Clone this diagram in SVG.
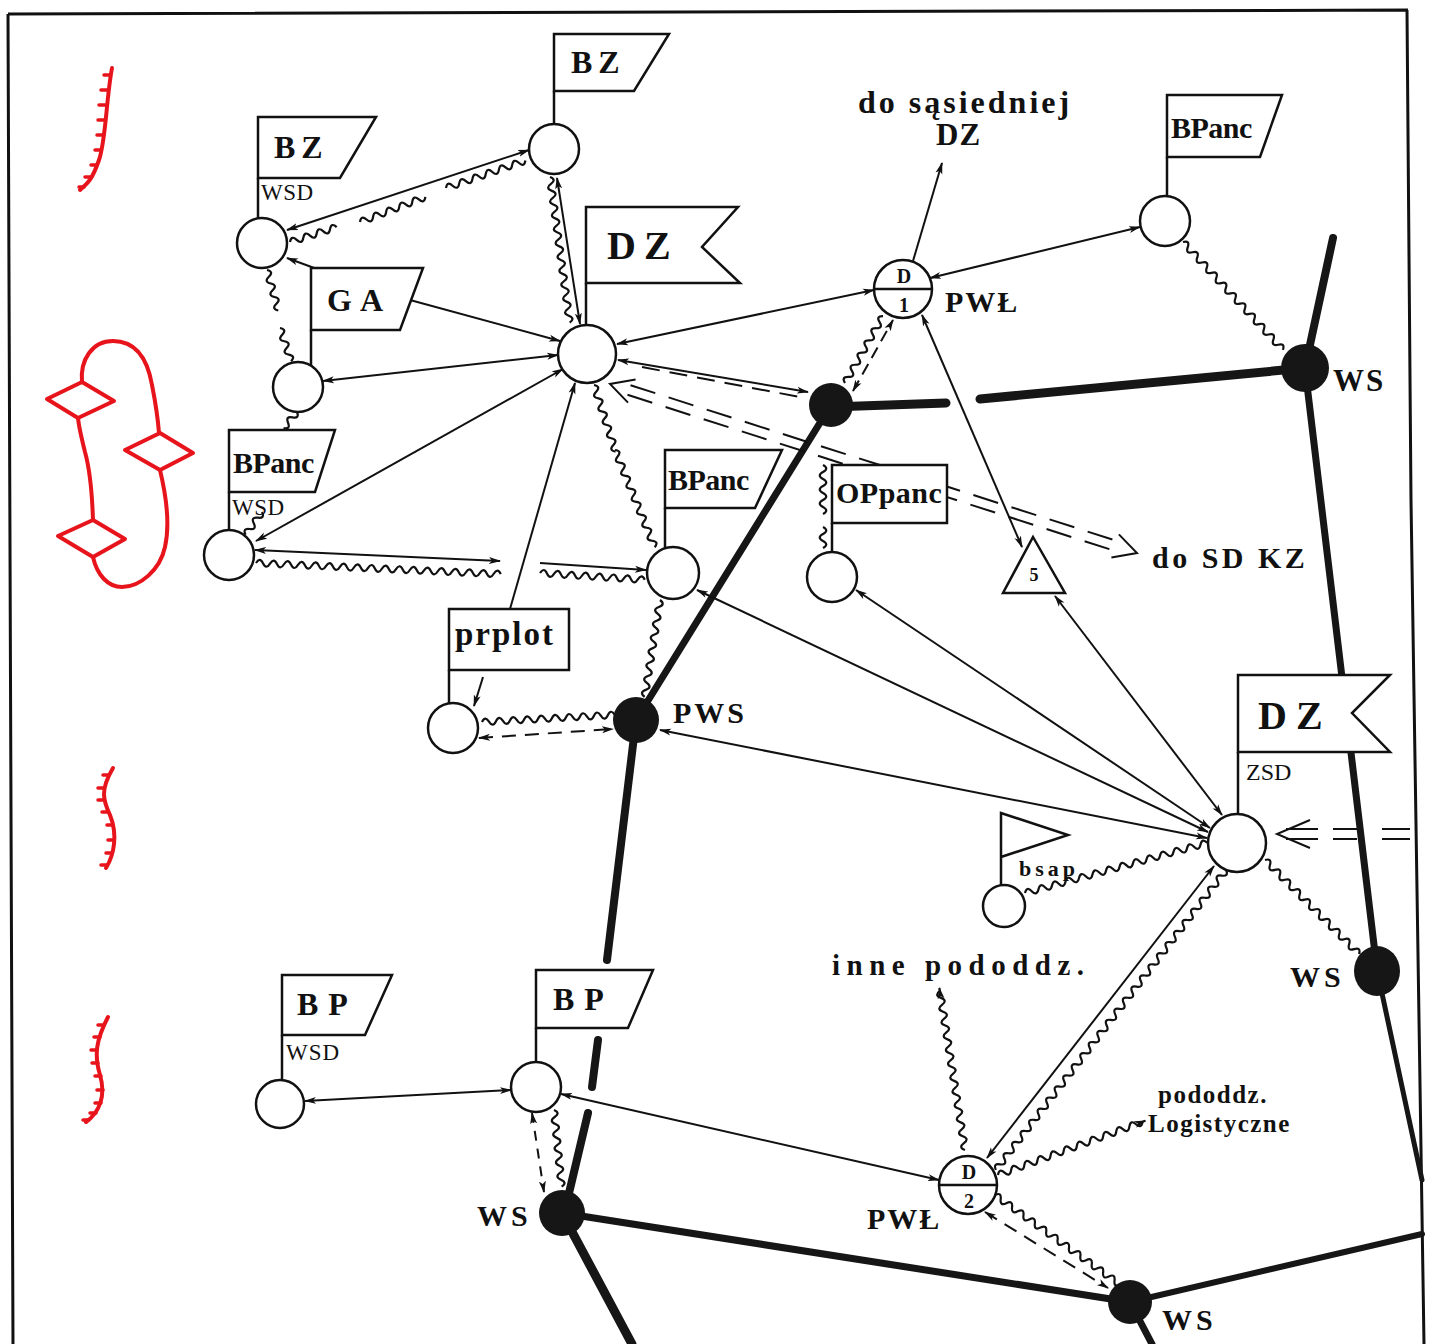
<svg xmlns="http://www.w3.org/2000/svg" width="1432" height="1344" viewBox="0 0 1432 1344">
<defs>
<marker id="ah" viewBox="0 0 12 8" refX="11" refY="4" markerWidth="12" markerHeight="8" markerUnits="userSpaceOnUse" orient="auto-start-reverse"><path d="M0,0.5 L12,4 L0,7.5 L3,4z" fill="#111"/></marker>
<style>
.ln{stroke:#111;stroke-width:2;fill:none}
.ar{marker-start:url(#ah);marker-end:url(#ah)}
.ae{marker-end:url(#ah)}
.wv{stroke:#111;stroke-width:2.2;fill:none}
.ds{stroke-dasharray:14 9}
.road{stroke:#161616;stroke-linecap:round;fill:none}
.nd{fill:#fff;stroke:#111;stroke-width:2.5}
.blk{fill:#161616}
.flag{fill:#fff;stroke:#111;stroke-width:2.5;stroke-linejoin:miter}
.pole{stroke:#111;stroke-width:2.5;fill:none}
.red{stroke:#e8141c;stroke-width:4;fill:none;stroke-linecap:round;stroke-linejoin:round}
.redt{stroke:#e8141c;stroke-width:3.5;fill:none;stroke-linecap:round}
.t{font-family:"Liberation Serif",serif;font-weight:bold;fill:#111}
.s{font-family:"Liberation Serif",serif;font-weight:normal;fill:#111}
</style>
</defs>
<rect width="1432" height="1344" fill="#fff"/>
<path d="M8,14 L1408,10 M8,14 L13,1344 M1407,10 L1411,500 L1424,1344" stroke="#111" stroke-width="3" fill="none"/>

<g id="red-marks">
<path class="red" d="M112,68 C106,100 106,140 99,160 S88,183 80,190"/>
<path class="redt" d="M110,75h-6M107,90h-6M105,105h-6M104,120h-6M103,135h-6M101,150h-6M97,165h-6M91,177h-6M84,187h-5"/>
<path class="red" d="M113,768 C100,790 103,800 110,815 C118,835 114,855 106,868"/>
<path class="redt" d="M109,775h-6M104,788h-6M104,800h-6M108,812h-6M113,825h-6M114,840h-6M112,853h-6M107,865h-6"/>
<path class="red" d="M108,1017 C96,1040 94,1055 100,1075 C106,1095 100,1112 86,1122"/>
<path class="redt" d="M104,1025h-6M100,1037h-6M97,1050h-6M98,1063h-6M101,1076h-6M103,1090h-6M101,1103h-6M96,1113h-6M89,1120h-6"/>
<path class="red" d="M82,382 C80,360 92,341 113,341 C138,341 148,362 152,385 C155,400 158,420 159,433"/>
<path class="red" d="M160,470 C166,495 170,525 165,547 C160,570 140,587 122,587 C108,587 97,575 93,557"/>
<path class="red" d="M93,520 C92,490 90,470 85,452 C82,440 79,428 78,418"/>
<path class="red" d="M47,399 L82,382 L114,401 L78,418 Z"/>
<path class="red" d="M125,450 L160,433 L193,453 L160,470 Z"/>
<path class="red" d="M58,536 L93,520 L125,539 L93,557 Z"/>
</g>

<g id="roads">
<path class="road" stroke-width="8" d="M1333,238 L1305,368"/>
<path class="road" stroke-width="9" d="M1305,368 L980,399"/>
<path class="road" stroke-width="9" d="M946,403 L831,407"/>
<path class="road" stroke-width="7" d="M831,405 L636,720"/>
<path class="road" stroke-width="8" d="M636,720 L607,960"/>
<path class="road" stroke-width="8" d="M598,1040 L592,1087"/>
<path class="road" stroke-width="8" d="M588,1113 L565,1210"/>
<path class="road" stroke-width="9" d="M562,1213 L632,1344"/>
<path class="road" stroke-width="7" d="M562,1213 L1130,1302"/>
<path class="road" stroke-width="6" d="M1130,1302 L1422,1234"/>
<path class="road" stroke-width="7" d="M1130,1302 L1152,1344"/>
<path class="road" stroke-width="7" d="M1305,368 L1377,970"/>
<path class="road" stroke-width="5" d="M1377,970 L1422,1180"/>
</g>

<g id="connectors">
<path class="ln ar" d="M287,230 L529,150"/>
<path class="ln ae" d="M410,300 L560,341"/>
<path class="ln ar" d="M323,381 L558,355"/>
<path class="ln ar" d="M256,541 L563,369"/>
<path class="ln ae" d="M510,609 L575,383"/>
<path class="ln ar" d="M557,178 L580,324"/>
<path class="ln ar" d="M617,344 L874,290"/>
<path class="ln ar" d="M618,360 L808,392"/>
<path class="ln ae" d="M913,261 L942,163"/>
<path class="ln ar" d="M1140,227 L930,278"/>
<path class="ln ar" d="M922,315 L1022,547"/>
<path class="ln ar" d="M697,590 L1208,832"/>
<path class="ln ar" d="M856,590 L1210,828"/>
<path class="ln ar" d="M1055,596 L1222,815"/>
<path class="ln ar" d="M660,730 L1207,838"/>
<path class="ln ar" d="M1214,866 L987,1158"/>
<path class="ln ar" d="M511,1090 L305,1101"/>
<path class="ln ar" d="M561,1094 L939,1180"/>
<path class="ln ae" d="M317,269 L287,258"/>
<path class="ln ae" d="M483,677 L474,706"/>
<path class="ln ar" d="M255,550 L500,561"/>
<path class="ln ae" d="M540,563 L646,570"/>
<path class="ln" stroke-dasharray="18 10" d="M642,367 L800,397"/>
<path class="ln ar" stroke-dasharray="12 7" d="M853,391 L893,320"/>
<path class="ln ar ds" d="M479,738 L613,729"/>
<path class="ln ar ds" d="M985,1212 L1108,1288"/>
<path class="ln ar" stroke-dasharray="10 8" d="M532,1113 L544,1192"/>
<path class="ln" stroke-dasharray="26 14" d="M630.5,385.2 L1114.5,540.2 M627.5,394.8 L1111.5,549.8"/>
<path class="ln" d="M628,402.6 L610,384 L635.6,379.4 M1118.9,534.4 L1137,553 L1111.4,557.6"/>
<path class="ln" d="M1410,829H1382M1357,829H1333M1318,829H1286M1410,839H1382M1357,839H1333M1318,839H1286M1310,820 L1277,834 L1310,848"/>
<path class="wv" transform="translate(290,242) rotate(-17.7)" d="M0,0q3.5,-6.5 7,0t7,0t7,0t7,0t7,0t7,0t7,0"/>
<path class="wv" transform="translate(360,222) rotate(-21)" d="M0,0q3.5,-6.5 7,0t7,0t7,0t7,0t7,0t7,0t7,0t7,0t7,0t7,0"/>
<path class="wv" transform="translate(446,188) rotate(-19.1)" d="M0,0q3.5,-6.5 7,0t7,0t7,0t7,0t7,0t7,0t7,0t7,0t7,0t7,0t7,0t7,0"/>
<path class="wv" transform="translate(550,177) rotate(82.3)" d="M0,0q3.5,-6.5 7,0t7,0t7,0t7,0t7,0t7,0t7,0t7,0t7,0t7,0t7,0t7,0t7,0t7,0t7,0t7,0t7,0t7,0t7,0t7,0t7,0"/>
<path class="wv" transform="translate(594,385) rotate(72.1)" d="M0,0q3.5,-6.5 7,0t7,0t7,0t7,0t7,0t7,0t7,0t7,0t7,0t7,0"/>
<path class="wv" transform="translate(615,450) rotate(67.8)" d="M0,0q3.5,-6.5 7,0t7,0t7,0t7,0t7,0t7,0t7,0t7,0t7,0t7,0t7,0t7,0t7,0t7,0t7,0"/>
<path class="wv" transform="translate(660,600) rotate(99)" d="M0,0q3.5,-6.5 7,0t7,0t7,0t7,0t7,0t7,0t7,0t7,0t7,0t7,0t7,0t7,0t7,0t7,0"/>
<path class="wv" transform="translate(256,563) rotate(2.6)" d="M0,0q3.5,-6.5 7,0t7,0t7,0t7,0t7,0t7,0t7,0t7,0t7,0t7,0t7,0t7,0t7,0t7,0t7,0t7,0t7,0t7,0t7,0t7,0t7,0t7,0t7,0t7,0t7,0t7,0t7,0t7,0t7,0t7,0t7,0t7,0t7,0t7,0t7,0"/>
<path class="wv" transform="translate(540,573) rotate(3.7)" d="M0,0q3.5,-6.5 7,0t7,0t7,0t7,0t7,0t7,0t7,0t7,0t7,0t7,0t7,0t7,0t7,0t7,0t7,0"/>
<path class="wv" transform="translate(482,722) rotate(-3.1)" d="M0,0q3.5,-6.5 7,0t7,0t7,0t7,0t7,0t7,0t7,0t7,0t7,0t7,0t7,0t7,0t7,0t7,0t7,0t7,0t7,0t7,0t7,0"/>
<path class="wv" transform="translate(1183,242) rotate(47.2)" d="M0,0q3.5,-6.5 7,0t7,0t7,0t7,0t7,0t7,0t7,0t7,0t7,0t7,0t7,0t7,0t7,0t7,0t7,0t7,0t7,0t7,0t7,0t7,0t7,0"/>
<path class="wv" transform="translate(845,383) rotate(-60.4)" d="M0,0q3.5,-6.5 7,0t7,0t7,0t7,0t7,0t7,0t7,0t7,0t7,0t7,0t7,0"/>
<path class="wv" transform="translate(1025,893) rotate(-15.4)" d="M0,0q3.5,-6.5 7,0t7,0t7,0t7,0t7,0t7,0t7,0t7,0t7,0t7,0t7,0t7,0t7,0t7,0t7,0t7,0t7,0t7,0t7,0t7,0t7,0t7,0t7,0t7,0t7,0t7,0t7,0"/>
<path class="wv" transform="translate(1265,860) rotate(45)" d="M0,0q3.5,-6.5 7,0t7,0t7,0t7,0t7,0t7,0t7,0t7,0t7,0t7,0t7,0t7,0t7,0t7,0t7,0t7,0t7,0t7,0t7,0"/>
<path class="wv" transform="translate(1226,870) rotate(127.5)" d="M0,0q3.5,-6.5 7,0t7,0t7,0t7,0t7,0t7,0t7,0t7,0t7,0t7,0t7,0t7,0t7,0t7,0t7,0t7,0t7,0t7,0t7,0t7,0t7,0t7,0t7,0t7,0t7,0t7,0t7,0t7,0t7,0t7,0t7,0t7,0t7,0t7,0t7,0t7,0t7,0t7,0t7,0t7,0t7,0t7,0t7,0t7,0t7,0t7,0t7,0t7,0t7,0t7,0t7,0t7,0t7,0t7,0"/>
<path class="wv ae" transform="translate(965,1150) rotate(-99)" d="M0,0q3.5,-6.5 7,0t7,0t7,0t7,0t7,0t7,0t7,0t7,0t7,0t7,0t7,0t7,0t7,0t7,0t7,0t7,0t7,0t7,0t7,0t7,0t7,0t7,0t7,0l3,0"/>
<path class="wv ae" transform="translate(998,1175) rotate(-20.2)" d="M0,0q3.5,-6.5 7,0t7,0t7,0t7,0t7,0t7,0t7,0t7,0t7,0t7,0t7,0t7,0t7,0t7,0t7,0t7,0t7,0t7,0t7,0t7,0t7,0t7,0l3,0"/>
<path class="wv" transform="translate(995,1195) rotate(35.6)" d="M0,0q3.5,-6.5 7,0t7,0t7,0t7,0t7,0t7,0t7,0t7,0t7,0t7,0t7,0t7,0t7,0t7,0t7,0t7,0t7,0t7,0t7,0t7,0t7,0t7,0"/>
<path class="wv" transform="translate(554,1110) rotate(84.3)" d="M0,0q3.5,-6.5 7,0t7,0t7,0t7,0t7,0t7,0t7,0t7,0t7,0t7,0t7,0"/>
<path class="wv" transform="translate(267,270) rotate(74.4)" d="M0,0q3.5,-6.5 7,0t7,0t7,0t7,0t7,0t7,0"/>
<path class="wv" transform="translate(280,328) rotate(71.6)" d="M0,0q3.5,-6.5 7,0t7,0t7,0t7,0t7,0"/>
<path class="wv" transform="translate(297,412) rotate(129.8)" d="M0,0q3.5,-6.5 7,0t7,0t7,0"/>
<path class="wv" transform="translate(262,512) rotate(126)" d="M0,0q3.5,-6.5 7,0t7,0t7,0t7,0"/>
<path class="wv" transform="translate(823,465) rotate(90)" d="M0,0q3.5,-6.5 7,0t7,0t7,0t7,0t7,0t7,0t7,0"/>
<path class="wv" transform="translate(823,527) rotate(90)" d="M0,0q3.5,-6.5 7,0t7,0t7,0"/>
</g>

<g id="n-bz-wsd">
<path class="pole" d="M258,178 V219"/>
<polygon class="flag" points="258,117 376,117 340,178 258,178"/>
<text class="t" x="274" y="158" font-size="32" letter-spacing="6">BZ</text>
<text class="s" x="261" y="200" font-size="23" letter-spacing="0.5">WSD</text>
<circle class="nd" cx="262" cy="243" r="25"/>
</g>
<g id="n-bz-top">
<path class="pole" d="M554,91 V124"/>
<polygon class="flag" points="554,34 669,34 634,91 554,91"/>
<text class="t" x="571" y="73" font-size="32" letter-spacing="6">BZ</text>
<circle class="nd" cx="554" cy="149" r="25"/>
</g>
<g id="n-ga">
<path class="pole" d="M311,330 V366"/>
<polygon class="flag" points="311,268 423,268 400,330 311,330"/>
<text class="t" x="327" y="311" font-size="32" letter-spacing="8">GA</text>
<circle class="nd" cx="298" cy="387" r="25"/>
</g>
<g id="n-bpanc-wsd">
<path class="pole" d="M229,492 V531"/>
<polygon class="flag" points="229,430 335,430 315,492 229,492"/>
<text class="t" x="233" y="473" font-size="30" letter-spacing="-0.5">BPanc</text>
<text class="s" x="232" y="515" font-size="23" letter-spacing="0.5">WSD</text>
<circle class="nd" cx="229" cy="555" r="25"/>
</g>
<g id="n-dz-main">
<path class="pole" d="M586,283 V325"/>
<polygon class="flag" points="586,207 738,207 702,247 740,283 586,283"/>
<text class="t" x="607" y="259" font-size="40" letter-spacing="8">DZ</text>
<circle class="nd" cx="587" cy="354" r="29"/>
</g>
<g id="n-d1">
<circle class="nd" cx="903" cy="289" r="29"/>
<path class="pole" d="M874,289 H932"/>
<text class="t" x="904" y="283" font-size="20" text-anchor="middle">D</text>
<text class="t" x="904" y="312" font-size="20" text-anchor="middle">1</text>
<text class="t" x="945" y="312" font-size="30" letter-spacing="2">PWŁ</text>
</g>
<g id="n-sasiednia">
<text class="t" x="858" y="113" font-size="32" letter-spacing="3">do sąsiedniej</text>
<text class="t" x="936" y="145" font-size="31" letter-spacing="1">DZ</text>
</g>
<g id="n-bpanc-tr">
<path class="pole" d="M1167,157 V196"/>
<polygon class="flag" points="1167,95 1282,95 1260,157 1167,157"/>
<text class="t" x="1171" y="138" font-size="30" letter-spacing="-0.5">BPanc</text>
<circle class="nd" cx="1165" cy="221" r="25"/>
</g>
<g id="n-ws-tr">
<circle class="blk" cx="1305" cy="368" r="24"/>
<text class="t" x="1333" y="391" font-size="31" letter-spacing="2">WS</text>
</g>
<g id="n-black-top">
<circle class="blk" cx="831" cy="405" r="22"/>
</g>
<g id="n-bpanc-mid">
<path class="pole" d="M665,508 V549"/>
<polygon class="flag" points="665,450 782,450 755,508 665,508"/>
<text class="t" x="668" y="490" font-size="30" letter-spacing="-0.5">BPanc</text>
<circle class="nd" cx="673" cy="573" r="26"/>
</g>
<g id="n-oppanc">
<path class="pole" d="M832,523 V552"/>
<rect class="flag" x="832" y="465" width="115" height="58"/>
<text class="t" x="836" y="503" font-size="30" letter-spacing="0.5">OPpanc</text>
<circle class="nd" cx="832" cy="577" r="25"/>
</g>
<g id="n-sdkz">
<text class="t" x="1152" y="568" font-size="30" letter-spacing="3.5">do SD KZ</text>
</g>
<g id="n-tri5">
<polygon class="flag" points="1033,537 1003,593 1065,593"/>
<text class="t" x="1034" y="581" font-size="18" text-anchor="middle">5</text>
</g>
<g id="n-prplot">
<path class="pole" d="M449,670 V704"/>
<rect class="flag" x="449" y="609" width="120" height="61"/>
<text class="t" x="455" y="645" font-size="33" letter-spacing="2">prplot</text>
<circle class="nd" cx="453" cy="728" r="25"/>
</g>
<g id="n-pws">
<circle class="blk" cx="636" cy="720" r="23"/>
<text class="t" x="673" y="723" font-size="30" letter-spacing="3">PWS</text>
</g>
<g id="n-dz-zsd">
<path class="pole" d="M1238,752 V815"/>
<polygon class="flag" points="1238,675 1390,675 1352,713 1390,752 1238,752"/>
<text class="t" x="1258" y="729" font-size="40" letter-spacing="9">DZ</text>
<text class="s" x="1246" y="780" font-size="24" letter-spacing="0">ZSD</text>
<circle class="nd" cx="1237" cy="843" r="29"/>
</g>
<g id="n-bsap">
<path class="flag" d="M1001,885 V813 L1068,835 L1001,857"/>
<text class="t" x="1019" y="876" font-size="22" letter-spacing="4">bsap</text>
<circle class="nd" cx="1004" cy="906" r="21"/>
</g>
<g id="n-ws-r">
<ellipse class="blk" cx="1377" cy="971" rx="23" ry="25"/>
<text class="t" x="1290" y="987" font-size="30" letter-spacing="4">WS</text>
</g>
<g id="n-inne">
<text class="t" x="832" y="975" font-size="29" letter-spacing="6.5">inne pododdz.</text>
</g>
<g id="n-logist">
<text class="t" x="1158" y="1103" font-size="25" letter-spacing="1.5">pododdz.</text>
<text class="t" x="1148" y="1132" font-size="25" letter-spacing="1.5">Logistyczne</text>
</g>
<g id="n-d2">
<circle class="nd" cx="968" cy="1185" r="29"/>
<path class="pole" d="M939,1185 H997"/>
<text class="t" x="969" y="1179" font-size="20" text-anchor="middle">D</text>
<text class="t" x="969" y="1208" font-size="20" text-anchor="middle">2</text>
<text class="t" x="867" y="1229" font-size="30" letter-spacing="2">PWŁ</text>
</g>
<g id="n-bp-left">
<path class="pole" d="M282,1035 V1080"/>
<polygon class="flag" points="282,975 392,975 365,1035 282,1035"/>
<text class="t" x="297" y="1015" font-size="32" letter-spacing="10">BP</text>
<text class="s" x="286" y="1060" font-size="23" letter-spacing="1">WSD</text>
<circle class="nd" cx="280" cy="1104" r="24"/>
</g>
<g id="n-bp-mid">
<path class="pole" d="M536,1028 V1062"/>
<polygon class="flag" points="536,970 653,970 628,1028 536,1028"/>
<text class="t" x="553" y="1010" font-size="32" letter-spacing="10">BP</text>
<circle class="nd" cx="536" cy="1087" r="25"/>
</g>
<g id="n-ws-b">
<circle class="blk" cx="562" cy="1213" r="23"/>
<text class="t" x="477" y="1226" font-size="30" letter-spacing="4">WS</text>
</g>
<g id="n-ws-br">
<circle class="blk" cx="1130" cy="1302" r="22"/>
<text class="t" x="1162" y="1330" font-size="30" letter-spacing="4">WS</text>
</g>
</svg>
